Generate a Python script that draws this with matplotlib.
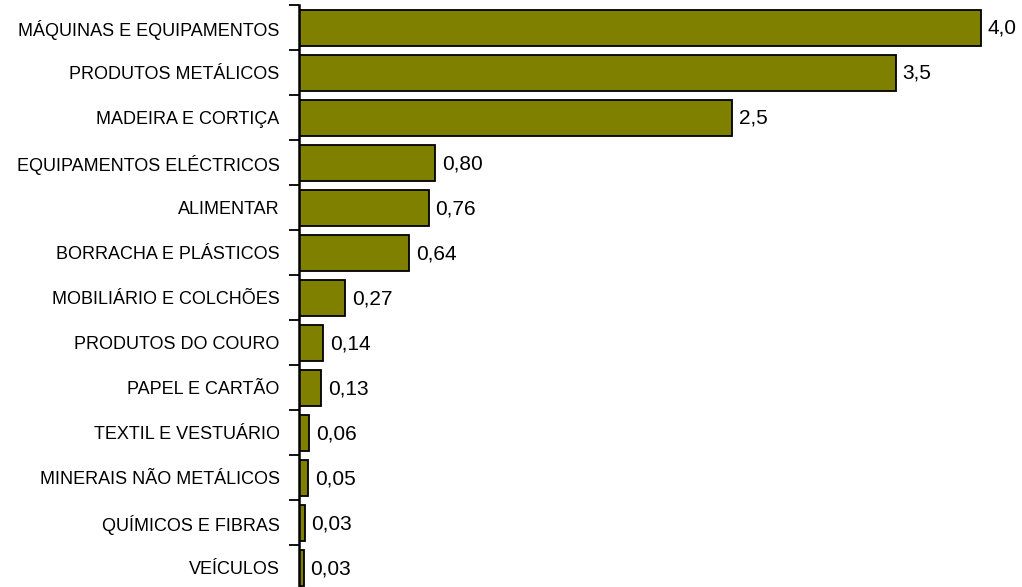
import matplotlib
matplotlib.use("Agg")
import matplotlib.pyplot as plt
import numpy as np

plt.rcParams['font.family'] = ['Liberation Sans', 'DejaVu Sans']

categorias = ["MÁQUINAS E EQUIPAMENTOS", "PRODUTOS METÁLICOS", "MADEIRA E CORTIÇA",
              "EQUIPAMENTOS ELÉCTRICOS", "ALIMENTAR", "BORRACHA E PLÁSTICOS",
              "MOBILIÁRIO E COLCHÕES", "PRODUTOS DO COURO", "PAPEL E CARTÃO",
              "TEXTIL E VESTUÁRIO", "MINERAIS NÃO METÁLICOS", "QUÍMICOS E FIBRAS",
              "VEÍCULOS"]
valores = [4.0, 3.5, 2.54, 0.80, 0.76, 0.645, 0.27, 0.14, 0.13, 0.06, 0.055, 0.033, 0.027]
rotulos = ["4,0", "3,5", "2,5", "0,80", "0,76", "0,64", "0,27", "0,14", "0,13",
           "0,06", "0,05", "0,03", "0,03"]

W, H = 1022, 587
fig = plt.figure(figsize=(W/100, H/100), dpi=100)
left, top, bottom = 299, 5, 590.5
ax = fig.add_axes([left/W, (H-bottom)/H, (W-left)/W, (bottom-top)/H])

n = len(categorias)
y = np.arange(n)
ax.barh(y, valores, height=0.8, color='#808000', edgecolor='black', linewidth=1.3)
for yi, v, r in zip(y, valores, rotulos):
    ax.text(v + 0.04, yi + 0.02, r, va='center', ha='left', fontsize=15)

ax.set_xlim(0, (W-left)/170.5)
ax.set_ylim(n-0.5, -0.5)
ax.set_yticks(y)
ax.set_yticklabels(categorias, fontsize=13)
ax.set_yticks(np.arange(n+1)-0.5, minor=True)
ax.tick_params(axis='y', which='major', length=0, pad=14)
ax.tick_params(axis='y', which='minor', length=7, width=1.3, direction='out')
ax.set_xticks([])
for s in ['top', 'right', 'bottom']:
    ax.spines[s].set_visible(False)
ax.spines['left'].set_linewidth(1.8)

fig.savefig("out.png", dpi=100)
